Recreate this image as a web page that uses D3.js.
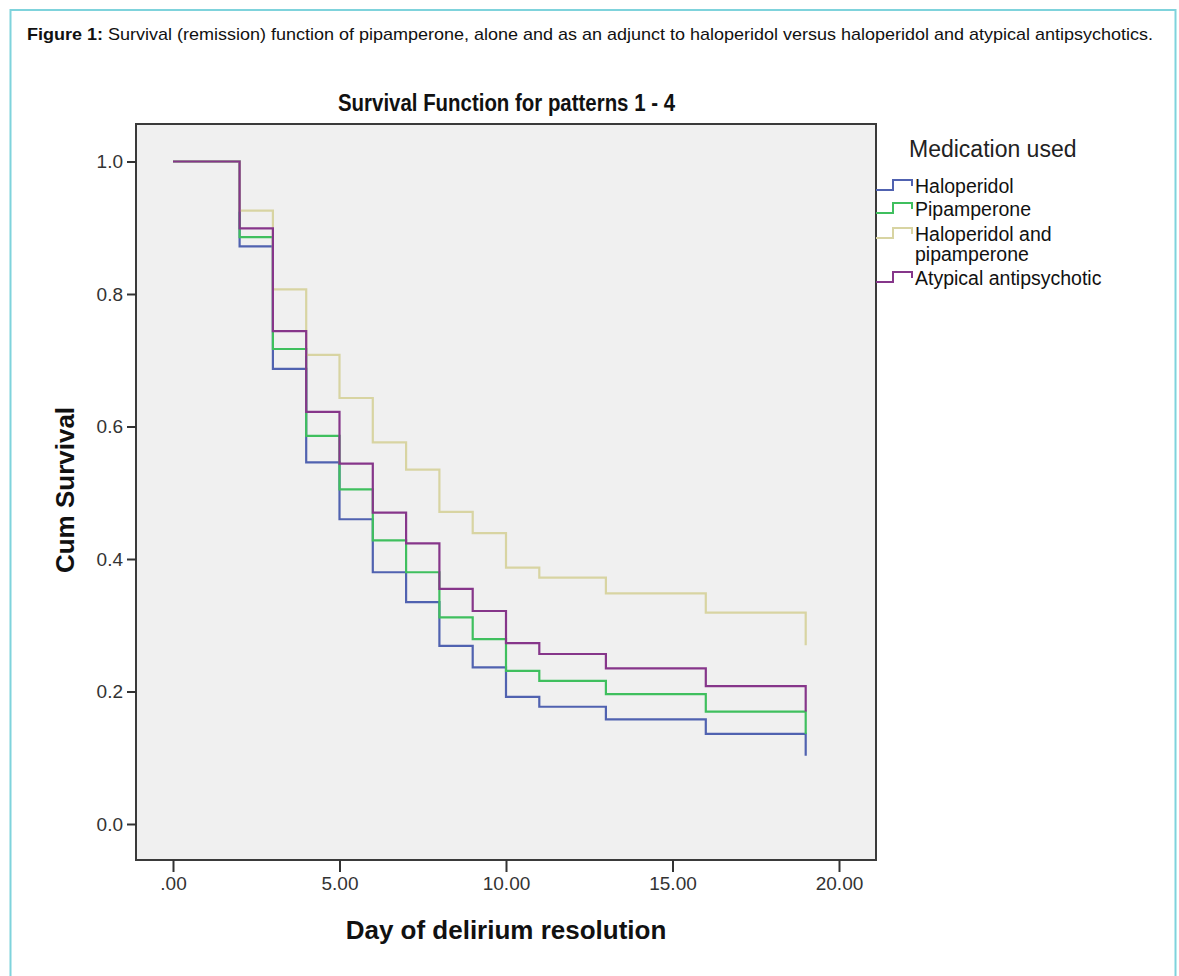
<!DOCTYPE html>
<html>
<head>
<meta charset="utf-8">
<script src="https://cdn.jsdelivr.net/npm/d3@7/dist/d3.min.js"></script>
<style>
  html, body { margin: 0; padding: 0; background: #fff; }
  svg { display: block; }
  text { font-family: "Liberation Sans", Arial, sans-serif; }
</style>
</head>
<body>
<svg id="chart" width="1179" height="976"></svg>
<script>
// ---- data ----
const days = [0, 2, 3, 4, 5, 6, 7, 8, 9, 10, 11, 13, 16, 19];
const seriesNames = ["Haloperidol", "Pipamperone", "Haloperidol and pipamperone", "Atypical antipsychotic"];
const haloperidol = [1, 0.872, 0.687, 0.546, 0.460, 0.380, 0.335, 0.269, 0.2365, 0.192, 0.177, 0.158, 0.136, 0.103];
const pipamperone = [1, 0.886, 0.717, 0.586, 0.505, 0.428, 0.380, 0.312, 0.279, 0.231, 0.216, 0.196, 0.1695, 0.136];
const haloPipamperone = [1, 0.926, 0.807, 0.708, 0.643, 0.576, 0.535, 0.471, 0.439, 0.387, 0.372, 0.348, 0.319, 0.270];
const atypical = [1, 0.899, 0.744, 0.622, 0.544, 0.470, 0.4235, 0.355, 0.3215, 0.273, 0.2566, 0.235, 0.208, 0.170];
const xTicks = [0, 5, 10, 15, 20];
const xTickLabels = [".00", "5.00", "10.00", "15.00", "20.00"];
const yTicks = [0, 0.2, 0.4, 0.6, 0.8, 1.0];
const yTickLabels = ["0.0", "0.2", "0.4", "0.6", "0.8", "1.0"];
const colors = ["#5062b0", "#3fbf5e", "#d8d4a2", "#86368a"];

const svg = d3.select("#chart");

// outer figure frame
svg.append("rect").attr("x", 10.5).attr("y", 10).attr("width", 1165).attr("height", 1000)
  .attr("fill", "#fff").attr("stroke", "#7fd3dc").attr("stroke-width", 2);

// caption
const cap = svg.append("text").attr("x", 27).attr("y", 40).attr("font-size", 17).attr("fill", "#111")
  .attr("textLength", 1126).attr("lengthAdjust", "spacingAndGlyphs");
cap.append("tspan").attr("font-weight", "bold").text("Figure 1:");
cap.append("tspan").text(" Survival (remission) function of pipamperone, alone and as an adjunct to haloperidol versus haloperidol and atypical antipsychotics.");

// plot frame
const frame = { x0: 136, y0: 124, x1: 876, y1: 860 };
svg.append("rect").attr("x", frame.x0).attr("y", frame.y0)
  .attr("width", frame.x1 - frame.x0).attr("height", frame.y1 - frame.y0)
  .attr("fill", "#f0f0f0").attr("stroke", "#3a3a3a").attr("stroke-width", 2);

const x = d3.scaleLinear().domain([0, 20]).range([173, 839]);
const y = d3.scaleLinear().domain([0, 1]).range([824, 161.5]);

// axes
const yAxis = svg.append("g").attr("transform", `translate(${frame.x0},0)`)
  .call(d3.axisLeft(y).tickValues(yTicks).tickSize(9).tickPadding(4)
    .tickFormat((d, i) => yTickLabels[i]));
yAxis.select(".domain").remove();
yAxis.selectAll(".tick line").attr("stroke", "#333").attr("stroke-width", 2);
yAxis.selectAll(".tick text").attr("font-size", 19).attr("fill", "#333")
  .style("font-family", '"Liberation Sans", Arial, sans-serif');

const xAxis = svg.append("g").attr("transform", `translate(0,${frame.y1})`)
  .call(d3.axisBottom(x).tickValues(xTicks).tickSize(12).tickPadding(5)
    .tickFormat((d, i) => xTickLabels[i]));
xAxis.select(".domain").remove();
xAxis.selectAll(".tick line").attr("stroke", "#333").attr("stroke-width", 2);
xAxis.selectAll(".tick text").attr("font-size", 19).attr("fill", "#333")
  .style("font-family", '"Liberation Sans", Arial, sans-serif');

// title and axis titles
svg.append("text").attr("x", 338).attr("y", 111)
  .attr("font-size", 23).attr("font-weight", "bold").attr("fill", "#111")
  .attr("textLength", 337).attr("lengthAdjust", "spacingAndGlyphs")
  .text("Survival Function for patterns 1 - 4");
svg.append("text").attr("x", 506).attr("y", 939).attr("text-anchor", "middle")
  .attr("font-size", 26).attr("font-weight", "bold").attr("fill", "#111")
  .text("Day of delirium resolution");
svg.append("text").attr("transform", "translate(74,490) rotate(-90)").attr("text-anchor", "middle")
  .attr("font-size", 26).attr("font-weight", "bold").attr("fill", "#111")
  .text("Cum Survival");

// survival step lines
const allSeries = [haloperidol, pipamperone, haloPipamperone, atypical];
const line = d3.line().curve(d3.curveStepAfter).x(d => x(d[0])).y(d => y(d[1]));
allSeries.forEach((vals, i) => {
  svg.append("path")
    .datum(days.map((d, j) => [d, vals[j]]))
    .attr("d", line)
    .attr("fill", "none").attr("stroke", colors[i]).attr("stroke-width", 2.2);
});

// legend
svg.append("text").attr("x", 909).attr("y", 157).attr("font-size", 23).attr("fill", "#222")
  .text("Medication used");
const legendRows = [
  { lines: ["Haloperidol"], base: 193 },
  { lines: ["Pipamperone"], base: 216 },
  { lines: ["Haloperidol and", "pipamperone"], base: 241 },
  { lines: ["Atypical antipsychotic"], base: 285 }
];
legendRows.forEach((r, i) => {
  const b = r.base;
  svg.append("path")
    .attr("d", `M${frame.x1},${b - 3}H893V${b - 13}H912V${b - 7}`)
    .attr("fill", "none").attr("stroke", colors[i]).attr("stroke-width", 2);
  const t = svg.append("text").attr("x", 915).attr("y", b).attr("font-size", 19.5).attr("fill", "#111");
  r.lines.forEach((ln, k) => {
    t.append("tspan").attr("x", 915).attr("dy", k === 0 ? 0 : 20).text(ln);
  });
});
</script>
</body>
</html>
